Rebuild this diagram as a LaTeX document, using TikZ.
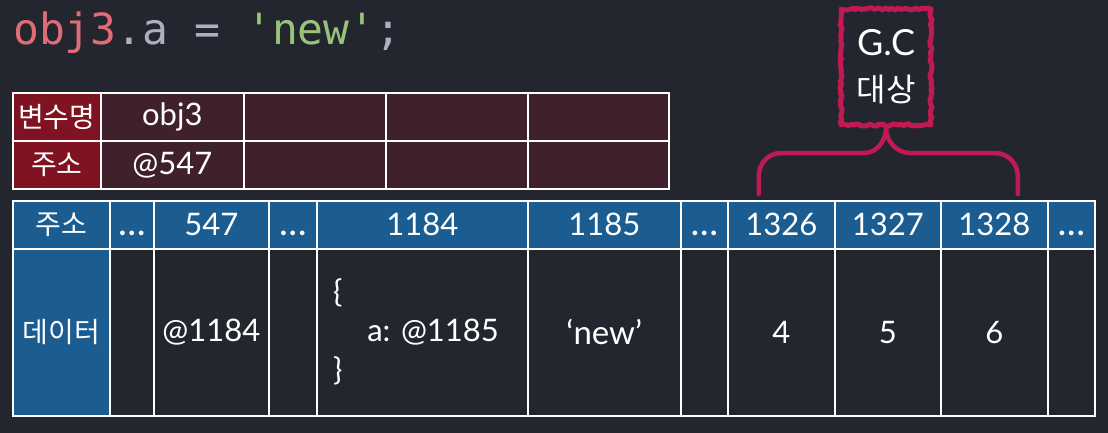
\documentclass[tikz,border=0pt]{standalone}
\usepackage{fontspec}
\setmainfont{Lato}
\newfontfamily\krfont{Noto Sans CJK KR}
\newfontfamily\codefont{DejaVu Sans Mono}
\usetikzlibrary{positioning,calc,decorations.pathmorphing}
\definecolor{bgdark}{RGB}{35,38,46}
\definecolor{memblue}{RGB}{28,93,145}
\definecolor{varred}{RGB}{128,19,34}
\definecolor{varcell}{RGB}{64,32,42}
\definecolor{gcpink}{RGB}{192,26,82}
\definecolor{codered}{RGB}{224,108,117}
\definecolor{codegrey}{RGB}{171,178,191}
\definecolor{codegreen}{RGB}{152,195,121}
\newcommand{\memdots}{\vphantom{1}{\bfseries.\kern2pt.\kern2pt.}}

\begin{document}
\begin{tikzpicture}[x=1pt, y=-1pt,
  cell/.style={draw=white, line width=1.6pt, anchor=north west, inner sep=0pt,
               text=white, font=\fontsize{31}{36}\selectfont},
  hcell/.style={cell, fill=memblue, minimum height=48pt},
  dcell/.style={cell, fill=bgdark, minimum height=167pt},
  krtext/.style={font=\krfont\fontsize{28}{32}\selectfont},
  vlabel/.style={cell, fill=varred, minimum height=48pt, minimum width=88pt, krtext},
  vcell/.style={cell, fill=varcell, minimum height=48pt},
  gcbox/.style={draw=gcpink, line width=5pt, line join=round, minimum width=90pt,
                minimum height=116pt, text=white, align=center,
                font=\fontsize{36}{46}\selectfont, decorate,
                decoration={random steps, segment length=2.5pt, amplitude=1.2pt}},
  brace/.style={draw=gcpink, line width=4.5pt, line cap=round}
]
  \useasboundingbox (0,0) rectangle (1108,433);
  \fill[bgdark] (0,0) rectangle (1108,433);

  % code line
  \node[anchor=base west, inner sep=0pt, font=\codefont\fontsize{43}{48}\selectfont] (code) at (13,45)
    {{\color{codered}obj3}{\color{codegrey}.a = }{\color{codegreen}\textquotesingle new\textquotesingle}{\color{codegrey};}};

  % variable table
  \node[vlabel] (vname) at (12,92)  {변수명};
  \node[vlabel] (vaddr) at (12,140) {주소};
  \foreach \x/\w/\lab [count=\i] in {100/143/obj3, 243/142/{}, 385/142/{}, 527/141/{}}
    \node[vcell, minimum width={\w pt}] (vn\i) at (\x,92) {\lab};
  \foreach \x/\w/\lab [count=\i] in {100/143/@547, 243/142/{}, 385/142/{}, 527/141/{}}
    \node[vcell, minimum width={\w pt}] (va\i) at (\x,140) {\lab};

  % memory table
  \node[hcell, minimum width=97pt, krtext] (h0) at (12,200) {주소};
  \foreach \x/\w/\lab [count=\i] in {109/44/\memdots, 153/115/547, 268/48/\memdots, 316/211/1184,
      527/153/1185, 680/47/\memdots, 727/107/1326, 834/106/1327, 940/107/1328, 1047/47/\memdots}
    \node[hcell, minimum width={\w pt}] (h\i) at (\x,200) {\lab};
  \node[dcell, fill=memblue, minimum width=97pt, krtext] (d0) at (12,248) {데이터};
  \foreach \x/\w/\lab [count=\i] in {109/44/{}, 153/115/@1184, 268/48/{}, 316/211/{},
      527/153/{\fontsize{33}{38}\selectfont ‘new’}, 680/47/{}, 727/107/4, 834/106/5,
      940/107/6, 1047/47/{}}
    \node[dcell, minimum width={\w pt}] (d\i) at (\x,248) {\lab};
  \node[anchor=west, align=left, inner sep=0pt, text=white,
        font=\fontsize{31}{39}\selectfont] (obj) at ([xshift=17pt]d4.west)
    {\{\\\hspace{1.1em}a: @1185\\\}};

  % G.C target
  \node[gcbox] (gc) at (886,67) {G.C\\{\krfont\fontsize{32}{40}\selectfont 대상}};
  \coordinate (bl) at ([xshift=-129pt, yshift=6pt]h8.north);
  \coordinate (br) at ([xshift=130pt, yshift=6pt]h8.north);
  \draw[brace] (bl) -- ++(0,-18) to[out=90, in=180] ++(22,-23) -- (864,153)
    to[out=0, in=-90] (gc.south) to[out=-90, in=180] (910,153) -- (995,153)
    to[out=0, in=90] ($(br)+(0,-18)$) -- (br);
\end{tikzpicture}
\end{document}
